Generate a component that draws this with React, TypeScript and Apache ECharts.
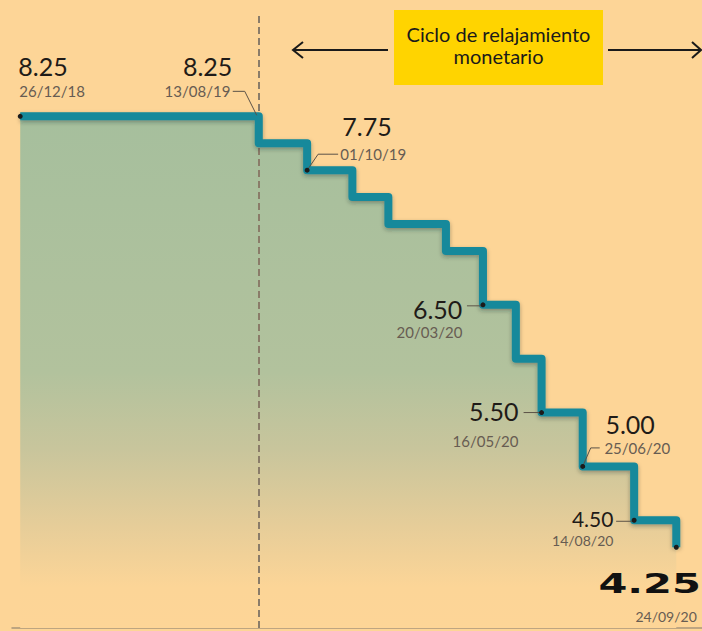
import React, { useEffect, useRef } from "react";
import * as echarts from "echarts";

// ---- data ----
const rateDates = [
  "2018-12-26", "2019-08-15", "2019-10-01", "2019-11-14", "2019-12-19", "2020-02-13",
  "2020-03-20", "2020-04-21", "2020-05-16", "2020-06-25", "2020-08-14", "2020-09-24",
];
const rateValues = [8.25, 8.0, 7.75, 7.5, 7.25, 7.0, 6.5, 6.0, 5.5, 5.0, 4.5, 4.25];

const noteDates = ["2018-12-26", "2019-08-13", "2019-10-01", "2020-03-20", "2020-05-16", "2020-06-25", "2020-08-14", "2020-09-24"];
const noteValues = [8.25, 8.25, 7.75, 6.5, 5.5, 5.0, 4.5, 4.25];
const noteValueLabels = ["8.25", "8.25", "7.75", "6.50", "5.50", "5.00", "4.50", "4.25"];
const noteDateLabels = ["26/12/18", "13/08/19", "01/10/19", "20/03/20", "16/05/20", "25/06/20", "14/08/20", "24/09/20"];

const cycleStartDate = "2019-08-15";
const cycleTitle = ["Ciclo de relajamiento", "monetario"];
const axisStart = "2018-12-18";
const axisEnd = "2020-10-19";
const yMin = 3.5;
const yMax = 9.2;

// ---- styles / placement of annotations (pixel offsets from each note point) ----
type Place = {
  v: [number, number, string];
  d: [number, number, string];
  leader?: number[][];
  dot?: boolean;
  kind?: "small" | "big";
};
const notePlacement: Place[] = [
  { v: [-2, -50.3, "left"], d: [-1, -25.3, "left"], dot: true },
  { v: [-24.4, -50.3, "right"], d: [-26.4, -25, "right"], leader: [[-24, -25], [-12, -25], [0, -1]] },
  { v: [35.2, -44.2, "left"], d: [33.2, -15.7, "left"], leader: [[0, 0], [11, -16], [31, -16]], dot: true },
  { v: [-20.6, 3.8, "right"], d: [-20.6, 27.2, "right"], leader: [[-16, 1], [0, 1]], dot: true },
  { v: [-23.2, -1.2, "right"], d: [-23.2, 28.2, "right"], leader: [[-18, 0], [0, 0]], dot: true },
  { v: [22.7, -42.2, "left"], d: [21.7, -18.6, "left"], leader: [[0, 0], [8, -18.5], [17, -18.5]], dot: true },
  { v: [-20.7, -1.5, "right"], d: [-20.7, 20, "right"], leader: [[-18, 1], [0, 1]], dot: true, kind: "small" },
  { v: [-77.9, 37, "left"], d: [-40.9, 69, "left"], dot: true, kind: "big" },
];

const ts = (s: string) => {
  const [y, m, d] = s.split("-").map(Number);
  return new Date(y, m - 1, d).getTime();
};

const BG = "#fdd597";
const TEAL = "#16899b";
const VALUE_COLOR = "#1f1b18";
const DATE_COLOR = "#675c52";
const FONT = "Lato, 'Noto Sans', sans-serif";

export default function App() {
  const ref = useRef<HTMLDivElement>(null);

  useEffect(() => {
    if (!ref.current) return;
    const chart = echarts.init(ref.current, undefined, { renderer: "svg" });

    const rateData = rateDates.map((d, i) => [ts(d), rateValues[i]]);
    const noteData = noteDates.map((d, i) => [ts(d), noteValues[i]]);

    const option: any = {
      animation: false,
      backgroundColor: BG,
      grid: { left: 12, right: 0, top: 14, bottom: 3 },
      xAxis: {
        type: "time",
        min: ts(axisStart),
        max: ts(axisEnd),
        axisLine: { show: true, lineStyle: { color: "#a8957a", width: 1.5 } },
        axisTick: { show: false },
        axisLabel: { show: false },
        splitLine: { show: false },
      },
      yAxis: {
        type: "value",
        min: yMin,
        max: yMax,
        show: false,
        splitLine: { show: false },
      },
      series: [
        {
          type: "line",
          name: "area",
          data: rateData,
          step: "end",
          symbol: "none",
          showSymbol: false,
          z: 1,
          lineStyle: { width: 0, opacity: 0 },
          areaStyle: {
            opacity: 1,
            color: new echarts.graphic.LinearGradient(0, 0, 0, 1, [
              { offset: 0, color: "#a6bf9d" },
              { offset: 0.5, color: "#b2c29d" },
              { offset: 0.65, color: "#c8c59c" },
              { offset: 0.8, color: "#e6cd99" },
              { offset: 0.92, color: "#fcd597" },
              { offset: 1, color: BG },
            ]),
          },
          silent: true,
        },
        {
          type: "line",
          name: "Tasa",
          data: rateData,
          step: "end",
          symbol: "none",
          showSymbol: false,
          z: 3,
          lineStyle: {
            color: TEAL,
            width: 8,
            join: "round",
            shadowColor: "rgba(30,40,40,0.35)",
            shadowBlur: 4,
            shadowOffsetY: 2,
          },
          markLine: {
            silent: true,
            z: 2,
            symbol: "none",
            label: { show: false },
            lineStyle: { color: "#8a7c69", width: 2, type: [7, 4] },
            data: [{ xAxis: ts(cycleStartDate) }],
          },
        },
        {
          type: "custom",
          name: "notes",
          data: noteData,
          z: 5,
          clip: false,
          silent: true,
          renderItem: (params: any, api: any) => {
            const i = params.dataIndex;
            const p = notePlacement[i];
            const pt = api.coord([api.value(0), api.value(1)]);
            const px = pt[0];
            const py = pt[1];
            const children: any[] = [];
            if (p.leader) {
              children.push({
                type: "polyline",
                shape: { points: p.leader.map((o) => [px + o[0], py + o[1]]) },
                style: { stroke: "#5b5247", lineWidth: 1, fill: null },
              });
            }
            const big = p.kind === "big";
            const small = p.kind === "small";
            children.push({
              type: "text",
              x: px + p.v[0],
              y: py + p.v[1],
              scaleX: big ? 1.6 : 1,
              style: {
                text: noteValueLabels[i],
                fill: big ? "#111111" : VALUE_COLOR,
                fontFamily: big ? "'DejaVu Sans', sans-serif" : FONT,
                fontWeight: big ? "bold" : "normal",
                fontSize: big ? 26 : small ? 21 : 25,
                align: p.v[2],
                verticalAlign: "middle",
              },
            });
            children.push({
              type: "text",
              x: px + p.d[0],
              y: py + p.d[1],
              style: {
                text: noteDateLabels[i],
                fill: DATE_COLOR,
                fontFamily: FONT,
                fontWeight: "normal",
                fontSize: small || big ? 14 : 15,
                align: p.d[2],
                verticalAlign: "middle",
              },
            });
            if (p.dot) {
              children.push({
                type: "circle",
                shape: { cx: px, cy: py, r: 2.5 },
                style: { fill: "#1b1b1b" },
              });
            }
            return { type: "group", children };
          },
        },
      ],
      graphic: [
        {
          type: "rect",
          shape: { x: 394, y: 10, width: 209, height: 75 },
          style: { fill: "#ffd400" },
          z: 10,
        },
        {
          type: "text",
          x: 498.5,
          y: 33.5,
          z: 11,
          style: {
            text: cycleTitle[0],
            fill: "#1a1a1a",
            fontFamily: FONT,
            fontSize: 20,
            align: "center",
            verticalAlign: "middle",
          },
        },
        {
          type: "text",
          x: 498.5,
          y: 56,
          z: 11,
          style: {
            text: cycleTitle[1],
            fill: "#1a1a1a",
            fontFamily: FONT,
            fontSize: 20,
            align: "center",
            verticalAlign: "middle",
          },
        },
        {
          type: "line",
          shape: { x1: 293, y1: 50, x2: 388, y2: 50 },
          style: { stroke: "#1a1a1a", lineWidth: 2 },
          z: 10,
        },
        {
          type: "polyline",
          shape: { points: [[303, 42], [293, 50], [303, 58]] },
          style: { stroke: "#1a1a1a", lineWidth: 2, fill: null },
          z: 10,
        },
        {
          type: "line",
          shape: { x1: 608, y1: 50, x2: 701, y2: 50 },
          style: { stroke: "#1a1a1a", lineWidth: 2 },
          z: 10,
        },
        {
          type: "polyline",
          shape: { points: [[692, 42], [701, 50], [692, 58]] },
          style: { stroke: "#1a1a1a", lineWidth: 2, fill: null },
          z: 10,
        },
      ],
    };

    chart.setOption(option);
    return () => chart.dispose();
  }, []);

  return (
    <div
      ref={ref}
      style={{ position: "absolute", left: 0, top: 0, width: 702, height: 631 }}
    />
  );
}
